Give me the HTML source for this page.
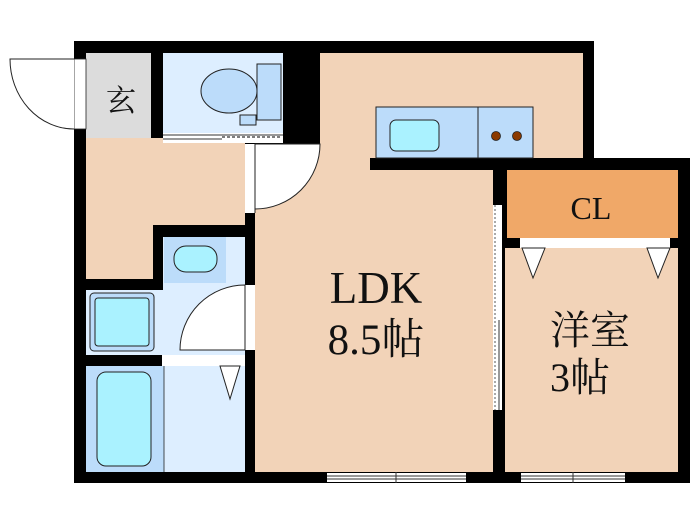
<!DOCTYPE html>
<html><head><meta charset="utf-8"><style>
html,body{margin:0;padding:0;background:#fff;width:700px;height:525px;overflow:hidden}
svg{display:block}
</style></head><body>
<svg width="700" height="525" viewBox="0 0 700 525" xmlns="http://www.w3.org/2000/svg" font-family="'Liberation Serif','DejaVu Serif','Noto Serif CJK SC',serif">
<rect x="74" y="41" width="520" height="129" fill="#000"/>
<rect x="74" y="41" width="181" height="442" fill="#000"/>
<rect x="255" y="158" width="435" height="325" fill="#000"/>
<rect x="86" y="53" width="65" height="85" fill="#dcdcdc"/>
<path d="M86 138 H245 V225 H153 V279 H86 Z" fill="#f2d3b8"/>
<rect x="163" y="53" width="120" height="80" fill="#ddeeff"/>
<rect x="257" y="64" width="24" height="56" fill="#bcdcfa" stroke="#222" stroke-width="1"/>
<ellipse cx="229" cy="91" rx="28" ry="22" fill="#bcdcfa" stroke="#222" stroke-width="1"/>
<rect x="240" y="115" width="16" height="10" fill="#bcdcfa" stroke="#222" stroke-width="1"/>
<rect x="163" y="133" width="120" height="10" fill="#fff"/>
<line x1="163" y1="135" x2="283" y2="135" stroke="#333" stroke-width="1"/>
<line x1="163" y1="139" x2="222" y2="139" stroke="#333" stroke-width="1"/>
<line x1="222" y1="137" x2="280" y2="137" stroke="#555" stroke-width="1.5" stroke-dasharray="3,2"/>
<rect x="320" y="53" width="263" height="105" fill="#f2d3b8"/>
<rect x="255" y="144" width="115" height="26" fill="#f2d3b8"/>
<rect x="255" y="170" width="238" height="302" fill="#f2d3b8"/>
<rect x="376" y="107" width="102" height="51" fill="#bcdcfa" stroke="#222" stroke-width="1"/>
<rect x="478" y="107" width="55" height="51" fill="#bcdcfa" stroke="#222" stroke-width="1"/>
<rect x="390" y="120" width="49" height="31" rx="6" fill="#aaf2ff" stroke="#222" stroke-width="1"/>
<circle cx="496" cy="136" r="4.5" fill="#8b3a00" stroke="#222" stroke-width="0.8"/>
<circle cx="517" cy="136" r="4.5" fill="#8b3a00" stroke="#222" stroke-width="0.8"/>
<rect x="245" y="144" width="10" height="69" fill="#fff"/>
<path d="M255 144 H320 A65 65 0 0 1 255 209 Z" fill="#fff" stroke="#222" stroke-width="1"/>
<line x1="255" y1="144" x2="255" y2="213" stroke="#222"/>
<rect x="74" y="59" width="12" height="70" fill="#fff" stroke="#222" stroke-width="0.8"/>
<path d="M74 59 H10 A64 70 0 0 0 74 129" fill="#fff" stroke="#222" stroke-width="1"/>
<text x="121" y="111" font-size="30" text-anchor="middle" fill="#111">玄</text>
<rect x="163" y="237" width="82" height="118" fill="#ddeeff"/>
<rect x="86" y="290" width="159" height="65" fill="#ddeeff"/>
<rect x="164" y="237" width="62" height="46" fill="#bcdcfa"/>
<rect x="174" y="246" width="43" height="26" rx="12" fill="#aaf2ff" stroke="#222" stroke-width="1"/>
<rect x="90" y="293" width="64" height="58" rx="4" fill="#bcdcfa" stroke="#222" stroke-width="1"/>
<rect x="95" y="298" width="54" height="48" rx="3" fill="#aaf2ff" stroke="#222" stroke-width="1"/>
<rect x="245" y="285" width="10" height="65" fill="#fff"/>
<path d="M245 285 A65 65 0 0 0 180 350 H245 Z" fill="#fff" stroke="#222" stroke-width="1"/>
<rect x="162" y="355" width="83" height="11" fill="#fff"/>
<rect x="86" y="366" width="159" height="106" fill="#ddeeff"/>
<rect x="86" y="366" width="78" height="106" fill="#bcdcfa"/>
<line x1="164" y1="366" x2="164" y2="472" stroke="#222" stroke-width="0.8"/>
<rect x="97" y="372" width="54" height="94" rx="9" fill="#aaf2ff" stroke="#222" stroke-width="1"/>
<path d="M220 366 L240 366 L230 399 Z" fill="#fff" stroke="#222" stroke-width="1"/>
<rect x="493" y="205" width="9" height="205" fill="#fff"/>
<line x1="495" y1="205" x2="495" y2="410" stroke="#555" stroke-width="1" stroke-dasharray="2,2"/>
<line x1="499" y1="320" x2="499" y2="410" stroke="#333" stroke-width="1"/>
<rect x="507" y="170" width="171" height="68" fill="#f0a868"/>
<rect x="505" y="248" width="173" height="224" fill="#f2d3b8"/>
<rect x="520" y="238" width="150" height="10" fill="#fff"/>
<path d="M522 248 L545 248 L533 278 Z" fill="#fff" stroke="#222"/>
<path d="M647 248 L670 248 L658 278 Z" fill="#fff" stroke="#222"/>
<rect x="327" y="473" width="139" height="9" fill="#fff"/>
<line x1="327" y1="476" x2="466" y2="476" stroke="#333"/>
<line x1="327" y1="479" x2="466" y2="479" stroke="#333"/>
<line x1="396" y1="472" x2="396" y2="483" stroke="#333"/>
<rect x="521" y="473" width="104" height="9" fill="#fff"/>
<line x1="521" y1="476" x2="625" y2="476" stroke="#333"/>
<line x1="521" y1="479" x2="625" y2="479" stroke="#333"/>
<line x1="573" y1="472" x2="573" y2="483" stroke="#333"/>
<g fill="#111">
<text x="376" y="303" font-size="45" text-anchor="middle">LDK</text>
<text x="376" y="354" font-size="43" text-anchor="middle">8.5帖</text>
<text x="591" y="219" font-size="32" text-anchor="middle">CL</text>
<text x="550" y="344" font-size="40">洋室</text>
<text x="550" y="391" font-size="40">3帖</text>
</g>
</svg>
</body></html>
